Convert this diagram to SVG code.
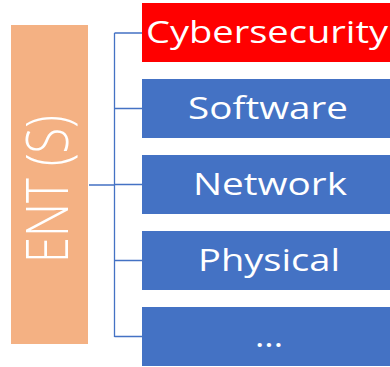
<svg xmlns="http://www.w3.org/2000/svg" width="390" height="367" viewBox="0 0 390 367">
<style>
.box{fill:#4472C4}
.lbl{font-family:"Open Sans","Liberation Sans",sans-serif;font-size:31px;fill:#FFFFFF;text-anchor:middle}
.conn{stroke:#4472C4;stroke-width:1.3;fill:none}
</style>
<rect width="390" height="367" fill="#FFFFFF"/>
<g id="connectors">
<path class="conn" d="M89,185H114.5M114.5,33V337M114.5,33H142M114.5,108.5H142M114.5,184.5H142M114.5,260.5H142M114.5,336.5H142"/>
</g>
<g id="ent">
<rect x="11" y="25" width="77" height="319" fill="#F4B183"/>
<text transform="translate(68,189) rotate(-90)" font-family="Open Sans, Liberation Sans, sans-serif" font-weight="300" font-size="58" fill="#FFFFFF" text-anchor="middle" textLength="148" lengthAdjust="spacingAndGlyphs">ENT (S)</text>
</g>
<g id="cybersecurity">
<rect x="142" y="3" width="256" height="59" fill="#FF0000"/>
<text class="lbl" x="267" y="43" font-size="32" textLength="242" lengthAdjust="spacingAndGlyphs">Cybersecurity</text>
</g>
<g id="software">
<rect class="box" x="142" y="79" width="256" height="59"/>
<text class="lbl" x="268" y="118.5" textLength="160" lengthAdjust="spacingAndGlyphs">Software</text>
</g>
<g id="network">
<rect class="box" x="142" y="155" width="256" height="59"/>
<text class="lbl" x="270" y="195" textLength="154" lengthAdjust="spacingAndGlyphs">Network</text>
</g>
<g id="physical">
<rect class="box" x="142" y="231" width="256" height="59"/>
<text class="lbl" x="269" y="271" textLength="142" lengthAdjust="spacingAndGlyphs">Physical</text>
</g>
<g id="more">
<rect class="box" x="142" y="307" width="256" height="59"/>
<text class="lbl" x="269" y="347" textLength="28" lengthAdjust="spacingAndGlyphs">...</text>
</g>
</svg>
